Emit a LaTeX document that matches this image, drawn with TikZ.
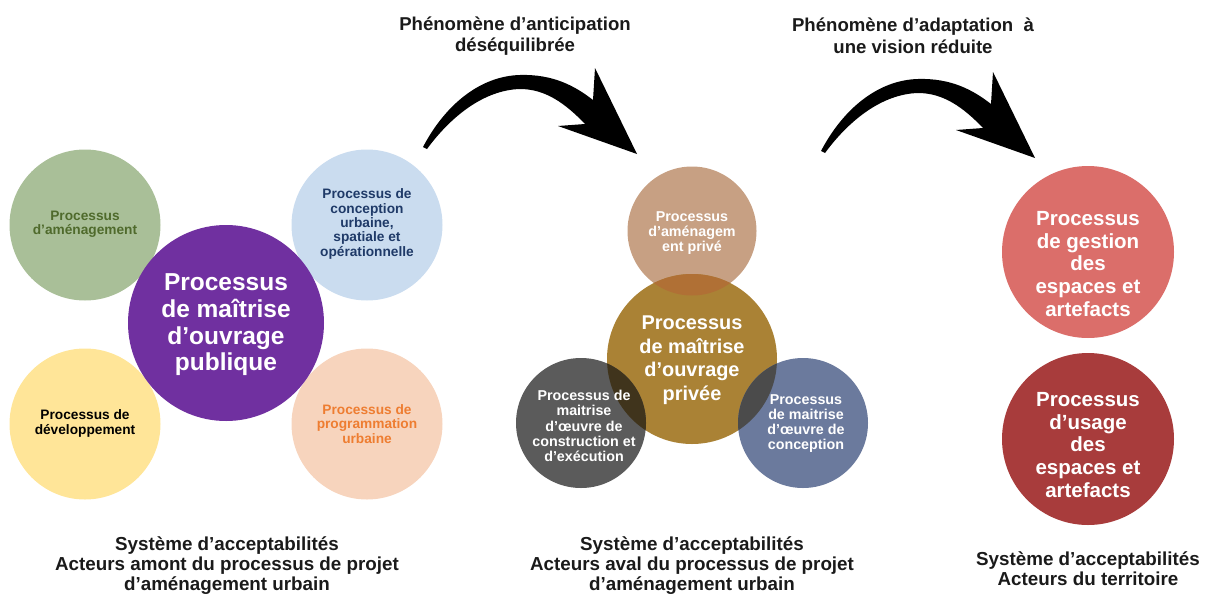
\documentclass[tikz,border=0pt]{standalone}
\usepackage{fontspec}
\setmainfont{Liberation Sans}
\definecolor{cGreen}{HTML}{A9BF98}
\definecolor{tGreen}{HTML}{4F6A2C}
\definecolor{cLblue}{HTML}{CADCEF}
\definecolor{tLblue}{HTML}{1F3A68}
\definecolor{cYellow}{HTML}{FFE598}
\definecolor{cPeach}{HTML}{F7D4BD}
\definecolor{tPeach}{HTML}{EE7D31}
\definecolor{cPurple}{HTML}{7030A0}
\definecolor{cTan}{HTML}{C7A083}
\definecolor{cGold}{HTML}{AA8235}
\definecolor{cGrey}{HTML}{5B5B5B}
\definecolor{cSlate}{HTML}{6B7A9D}
\definecolor{oTan}{HTML}{B07035}
\definecolor{oGrey}{HTML}{40341C}
\definecolor{oSlate}{HTML}{4B4B4B}
\definecolor{cPink}{HTML}{DB6E6A}
\definecolor{cRed}{HTML}{A83C3C}
\definecolor{tDark}{HTML}{1A1A1A}
\newcommand\fsSmall{\fontsize{13.7}{14.3}\selectfont\bfseries}
\newcommand\fsMid{\fontsize{14.3}{15.2}\selectfont\bfseries}
\newcommand\fsGold{\fontsize{19.9}{23.5}\selectfont\bfseries}
\newcommand\fsBig{\fontsize{24.5}{26.7}\selectfont\bfseries}
\newcommand\fsRight{\fontsize{20.5}{22.6}\selectfont\bfseries}
\newcommand\fsLbl{\fontsize{18.6}{21.5}\selectfont\bfseries}
\newcommand\fsFoot{\fontsize{18.8}{20}\selectfont\bfseries}
\tikzset{
  disc/.style={circle, inner sep=0pt, outer sep=0pt, minimum size=#1},
  lbl/.style={align=center, inner sep=0pt},
  bigarrow/.style={fill=black}
}
\begin{document}
\begin{tikzpicture}[x=1pt,y=-1pt]
\useasboundingbox (0,0) rectangle (1208,600);

% ---------- left group ----------
\node[disc=151pt, fill=cGreen]  (cgreen)  at (85,225)  {};
\node[disc=151pt, fill=cLblue]  (clblue)  at (367,225) {};
\node[disc=151pt, fill=cYellow] (cyellow) at (85,424)  {};
\node[disc=151pt, fill=cPeach]  (cpeach)  at (367,424) {};
\node[disc=196pt, fill=cPurple] (cpurple) at (226,323) {};

\node[lbl, font=\fsSmall, text=tGreen] (tgreen) at (85,224) {Processus\\d’aménagement};
\node[lbl, font=\fsSmall, text=tLblue] (tlblue) at (367,224) {Processus de\\conception\\urbaine,\\spatiale et\\opérationnelle};
\node[lbl, font=\fsSmall, text=black] (tyellow) at (85,423.5) {Processus de\\développement};
\node[lbl, font=\fsSmall, text=tPeach] (tpeach) at (367,424) {Processus de\\programmation\\urbaine};
\node[lbl, font=\fsBig, text=white] (tpurple) at (226,325) {Processus\\de maîtrise\\d’ouvrage\\publique};

% ---------- middle group ----------
\node[disc=129pt, fill=cTan]   (ctan)   at (692,231) {};
\node[disc=170pt, fill=cGold]  (cgold)  at (692,359) {};
\node[disc=130pt, fill=cGrey]  (cgrey)  at (581,423) {};
\node[disc=130pt, fill=cSlate] (cslate) at (803,423) {};
\begin{scope}
  \clip (cgold.center) circle (85pt);
  \fill[oTan]   (ctan.center)   circle (64.5pt);
  \fill[oGrey]  (cgrey.center)  circle (65pt);
  \fill[oSlate] (cslate.center) circle (65pt);
\end{scope}

\node[lbl, font=\fsMid, text=white] (ttan) at (692,233) {Processus\\d’aménagem\\ent privé};
\node[lbl, font=\fsGold, text=white] (tgold) at (692,360) {Processus\\de maîtrise\\d’ouvrage\\privée};
\node[lbl, font=\fsMid, text=white] (tgrey) at (584,426) {Processus de\\maitrise\\d'œuvre de\\construction et\\d'exécution};
\node[lbl, font=\fsMid, text=white] (tslate) at (806,423.5) {Processus\\de maitrise\\d’œuvre de\\conception};

% ---------- right group ----------
\node[disc=172pt, fill=cPink] (cpink) at (1088,252) {};
\node[disc=172pt, fill=cRed]  (cred)  at (1088,439) {};
\node[lbl, font=\fsRight, text=white] (tpink) at (1088,264) {Processus\\de gestion\\des\\espaces et\\artefacts};
\node[lbl, font=\fsRight, text=white] (tred) at (1088,445) {Processus\\d’usage\\des\\espaces et\\artefacts};

% ---------- arrows ----------
\foreach \dx/\dy in {0/0, 398/4} {
  \begin{scope}[shift={(\dx,\dy)}]
    \fill[bigarrow] (423,147)
      .. controls (445,105) and (480,76) .. (520,75)
      .. controls (553,74) and (575,86) .. (593,100)
      -- (595,68) -- (637,154) -- (558,126) -- (585,124)
      .. controls (565,103) and (545,89) .. (520,89)
      .. controls (485,90) and (452,115) .. (427,149) -- cycle;
  \end{scope}
}
\node[lbl, font=\fsLbl, text=tDark] (larrow1) at (515,36) {Phénomène d’anticipation\\déséquilibrée};
\node[lbl, font=\fsLbl, text=tDark] (larrow2) at (913,36) {Phénomène d’adaptation\ \ à\\une vision réduite};

% ---------- captions ----------
\node[lbl, font=\fsFoot, text=tDark] (foot1) at (227,566) {Système d’acceptabilités\\Acteurs amont du processus de projet\\d’aménagement urbain};
\node[lbl, font=\fsFoot, text=tDark] (foot2) at (692,566) {Système d’acceptabilités\\Acteurs aval du processus de projet\\d’aménagement urbain};
\node[lbl, font=\fsFoot, text=tDark] (foot3) at (1088,569) {Système d’acceptabilités\\Acteurs du territoire};
\end{tikzpicture}
\end{document}
